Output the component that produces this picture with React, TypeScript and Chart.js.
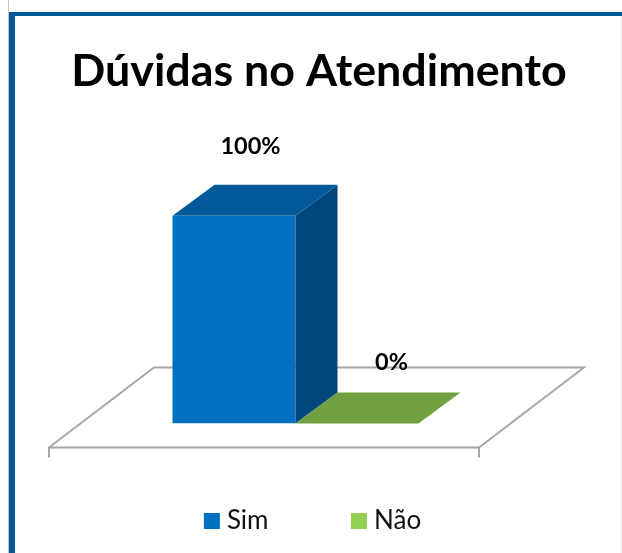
import React, { useEffect, useRef } from "react";
import { Chart, registerables } from "chart.js";

Chart.register(...registerables);

const categories = ["Dúvidas no Atendimento"];
const seriesNames = ["Sim", "Não"];
const simValues = [100];
const naoValues = [0];
const valueLabels = ["100%", "0%"];
const frontColors = ["#0070C0", "#92D050"];
const topColors = ["#005A9A", "#70A03F"];
const sideColors = ["#00477E", "#5A8032"];

const DEPTH = { x: 42, y: -31 };
const FLOOR_FRONT = { x: -31.5, y: 24 };
const FLOOR_BACK = { x: 73.5, y: -56 };
const LABEL_OFFSET = [{ x: 16.5, y: -69 }, { x: 34.5, y: -61 }];

const quad = (ctx: CanvasRenderingContext2D, pts: number[][], color: string) => {
  ctx.fillStyle = color;
  ctx.beginPath();
  pts.forEach((p, i) => (i ? ctx.lineTo(p[0], p[1]) : ctx.moveTo(p[0], p[1])));
  ctx.closePath();
  ctx.fill();
};

const shiftBoxes = {
  id: "shiftBoxes",
  afterLayout(chart: any) {
    chart.titleBlock.left -= 61.5;
    chart.titleBlock.right += 108.5;
    chart.legend.left += 20;
    chart.legend.right += 20;
    chart.legend.top -= 9;
    chart.legend.bottom -= 9;
  },
};

const floor3d = {
  id: "floor3d",
  beforeDatasetsDraw(chart: any) {
    const { ctx, scales } = chart;
    const l = scales.x.left;
    const r = scales.x.right;
    const z = scales.y.getPixelForValue(0);
    ctx.save();
    ctx.strokeStyle = "#A6A6A6";
    ctx.lineWidth = 2;
    ctx.beginPath();
    ctx.moveTo(l + FLOOR_FRONT.x, z + FLOOR_FRONT.y + 10);
    ctx.lineTo(l + FLOOR_FRONT.x, z + FLOOR_FRONT.y);
    ctx.lineTo(r + FLOOR_FRONT.x, z + FLOOR_FRONT.y);
    ctx.lineTo(r + FLOOR_FRONT.x, z + FLOOR_FRONT.y + 10);
    ctx.moveTo(l + FLOOR_FRONT.x, z + FLOOR_FRONT.y);
    ctx.lineTo(l + FLOOR_BACK.x, z + FLOOR_BACK.y);
    ctx.lineTo(r + FLOOR_BACK.x, z + FLOOR_BACK.y);
    ctx.lineTo(r + FLOOR_FRONT.x, z + FLOOR_FRONT.y);
    ctx.stroke();
    ctx.restore();
  },
  afterDatasetsDraw(chart: any) {
    const { ctx } = chart;
    ctx.save();
    chart.data.datasets.forEach((_: any, i: number) => {
      const bar = chart.getDatasetMeta(i).data[0];
      const x0 = bar.x - bar.width / 2;
      const x1 = bar.x + bar.width / 2;
      const top = bar.y;
      const base = bar.base;
      if (base - top > 0.5) {
        quad(ctx, [[x1, top], [x1 + DEPTH.x, top + DEPTH.y], [x1 + DEPTH.x, base + DEPTH.y], [x1, base]], sideColors[i]);
      }
      quad(ctx, [[x0, top], [x1, top], [x1 + DEPTH.x, top + DEPTH.y], [x0 + DEPTH.x, top + DEPTH.y]], topColors[i]);
    });
    ctx.fillStyle = "#000000";
    ctx.font = "bold 23.5px Lato";
    ctx.textAlign = "center";
    ctx.textBaseline = "middle";
    chart.data.datasets.forEach((_: any, i: number) => {
      const bar = chart.getDatasetMeta(i).data[0];
      ctx.fillText(valueLabels[i], bar.x + LABEL_OFFSET[i].x, bar.y + LABEL_OFFSET[i].y);
    });
    ctx.restore();
  },
};

export default function App() {
  const ref = useRef<HTMLCanvasElement>(null);
  useEffect(() => {
    const chart = new Chart(ref.current as HTMLCanvasElement, {
      type: "bar",
      data: {
        labels: categories,
        datasets: [
          { label: seriesNames[0], data: simValues, backgroundColor: frontColors[0] },
          { label: seriesNames[1], data: naoValues, backgroundColor: frontColors[1] },
        ],
      },
      plugins: [shiftBoxes, floor3d],
      options: {
        responsive: false,
        animation: false,
        layout: { padding: { left: 80.5, right: 111.5, top: 0, bottom: 0 } },
        datasets: { bar: { categoryPercentage: 0.572, barPercentage: 1 } },
        scales: {
          x: {
            display: true,
            ticks: { display: false },
            grid: { display: false },
            border: { display: false },
            afterFit: (s: any) => { s.height = 5; },
          },
          y: { display: false, min: 0, max: 100 },
        },
        plugins: {
          tooltip: { enabled: false },
          title: {
            display: true,
            text: "Dúvidas no Atendimento",
            color: "#000000",
            font: { family: "Lato", weight: "bold", size: 44.8 },
            padding: { top: 45, bottom: 117 },
          },
          legend: {
            position: "bottom",
            maxHeight: 145,
            labels: {
              color: "#111111",
              font: { family: "Lato", size: 26 },
              boxWidth: 4,
              boxHeight: 4,
              padding: 88.5,
              generateLabels: (chart: any) =>
                chart.data.datasets.map((d: any, i: number) => ({
                  text: d.label,
                  fillStyle: frontColors[i],
                  strokeStyle: frontColors[i],
                  lineWidth: 12,
                  datasetIndex: i,
                  fontColor: "#111111",
                })),
            },
          },
        },
      },
    } as any);
    return () => chart.destroy();
  }, []);
  return (
    <div style={{ position: "absolute", left: 0, top: 0, width: 622, height: 553, background: "#fff", overflow: "hidden" }}>
      <div style={{ position: "absolute", left: 8, top: 0, width: 1, height: 553, background: "#C8C8C8" }} />
      <div style={{ position: "absolute", left: 621, top: 15, width: 1, height: 538, background: "#EDEDED" }} />
      <div style={{ position: "absolute", left: 9, top: 12, width: 613, height: 541, boxSizing: "border-box", borderLeft: "6px solid #005A96", borderTop: "4px solid #005A96" }} />
      <canvas ref={ref} width={622} height={553} style={{ position: "absolute", left: 0, top: 0, display: "block" }} />
    </div>
  );
}
